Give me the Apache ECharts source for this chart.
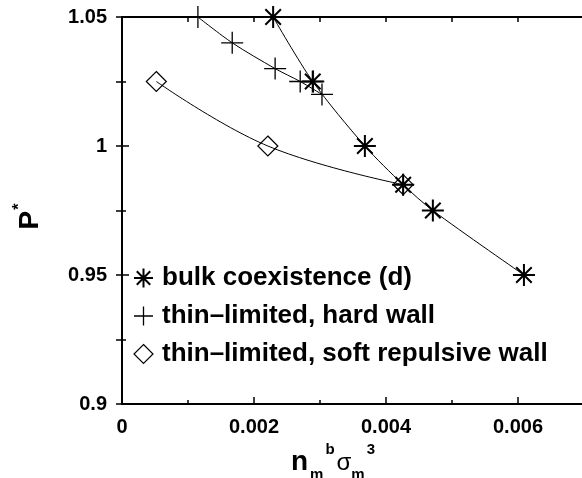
<!DOCTYPE html>
<html>
<head>
<meta charset="utf-8">
<script src="https://cdn.jsdelivr.net/npm/echarts@6/dist/echarts.min.js"></script>
<style>
  html, body { margin: 0; padding: 0; background: #fff; }
  #chart { width: 582px; height: 478px; }
</style>
</head>
<body>
<div id="chart"></div>
<script>
// values
const bulkX = [0.00229, 0.00289, 0.00368, 0.00426, 0.00471, 0.00609]
const bulkY = [1.05, 1.025, 1.0, 0.985, 0.975, 0.95]

const hardX = [0.00115, 0.00167, 0.00232, 0.0027, 0.00303]
const hardY = [1.05, 1.04, 1.03, 1.025, 1.02]
// extra hard-wall points sitting on top of the bulk curve
const hardExtraX = [0.0029, 0.00426]
const hardExtraY = [1.025, 0.985]

const softX = [0.00052, 0.00221, 0.00426]
const softY = [1.025, 1.0, 0.985]

const names = ['bulk coexistence (d)', 'thin–limited, hard wall', 'thin–limited, soft repulsive wall']

const FONT = '"Liberation Sans", Arial, Helvetica, sans-serif'
const ASTERISK = 'path://M0,10L20,10M10,0L10,20M2.93,2.93L17.07,17.07M17.07,2.93L2.93,17.07'
const PLUS = 'path://M0,10L20,10M10,0L10,20'

const pairs = (xs, ys) => xs.map((x, i) => [x, ys[i]])

const markStyle = (w) => ({ color: 'transparent', borderColor: '#000', borderWidth: w })

const chart = echarts.init(document.getElementById('chart'))

chart.setOption({
  animation: false,
  backgroundColor: '#fff',
  grid: { left: 122, top: 17, right: -2, bottom: 74, outerBoundsMode: 'none', containLabel: false },
  legend: {
    orient: 'vertical',
    left: 128,
    top: 260,
    itemWidth: 19,
    itemHeight: 19,
    itemGap: 12,
    selectedMode: false,
    textStyle: { fontFamily: FONT, fontWeight: 'bold', fontSize: 26, color: '#000', padding: [0, 0, 0, 4] },
    data: [
      { name: names[0], icon: ASTERISK, itemStyle: markStyle(2) },
      { name: names[1], icon: PLUS, itemStyle: markStyle(1.3) },
      { name: names[2], icon: 'diamond', itemStyle: markStyle(1.2) },
    ],
  },
  xAxis: [
    {
      type: 'value', position: 'bottom', min: 0, max: 0.007, interval: 0.002,
      axisLine: { show: true, lineStyle: { color: '#000', width: 2 } },
      axisTick: { show: true, inside: true, length: 7, lineStyle: { color: '#000', width: 1.5 } },
      axisLabel: { show: true, showMaxLabel: false, margin: 13, color: '#000', fontFamily: FONT, fontWeight: 'bold', fontSize: 20 },
      splitLine: { show: false },
      name: '{n|n}{sub|m}{sup|b}{s|σ}{sub|m}{sup|3}',
      nameLocation: 'middle',
      nameGap: 30,
      nameTextStyle: {
        padding: [0, 38, 0, 0],
        rich: {
          n: { fontFamily: FONT, fontWeight: 'bold', fontSize: 28, lineHeight: 28, color: '#000', verticalAlign: 'bottom', padding: [0, 2, 6, 0] },
          sub: { fontFamily: FONT, fontWeight: 'bold', fontSize: 15, lineHeight: 15, color: '#000', verticalAlign: 'bottom' },
          sup: { fontFamily: FONT, fontWeight: 'bold', fontSize: 15, lineHeight: 15, color: '#000', verticalAlign: 'bottom', padding: [0, 2, 25, 2] },
          s: { fontFamily: FONT, fontSize: 24, lineHeight: 24, color: '#000', verticalAlign: 'bottom', padding: [0, 0, 7, 0] },
        },
      },
    },
    {
      type: 'value', position: 'bottom', min: 0, max: 0.007, interval: 0.001,
      axisLine: { show: false },
      axisTick: { show: true, inside: true, length: 4, lineStyle: { color: '#000', width: 1.5 } },
      axisLabel: { show: false },
      splitLine: { show: false },
    },
    {
      type: 'value', position: 'top', min: 0, max: 0.007, interval: 0.001,
      axisLine: { show: true, lineStyle: { color: '#000', width: 2 } },
      axisTick: { show: true, inside: true, length: 5, lineStyle: { color: '#000', width: 1.5 } },
      axisLabel: { show: false },
      splitLine: { show: false },
    },
  ],
  yAxis: [
    {
      type: 'value', position: 'left', min: 0.9, max: 1.05, interval: 0.05,
      axisLine: { show: true, lineStyle: { color: '#000', width: 2 } },
      axisTick: { show: true, inside: true, length: 7, lineStyle: { color: '#000', width: 1.5 } },
      minorTick: { show: true, splitNumber: 2, length: 4, lineStyle: { color: '#000', width: 1.5 } },
      axisLabel: { margin: 15, color: '#000', fontFamily: FONT, fontWeight: 'bold', fontSize: 20 },
      splitLine: { show: false },
      name: '{p|P}{s|*}',
      nameLocation: 'middle',
      nameRotate: 90,
      nameGap: 78,
      nameTextStyle: {
        padding: [0, 12, 0, 0],
        rich: {
          p: { fontFamily: FONT, fontWeight: 'bold', fontSize: 28, lineHeight: 28, color: '#000', verticalAlign: 'bottom' },
          s: { fontFamily: FONT, fontWeight: 'bold', fontSize: 16, lineHeight: 16, color: '#000', verticalAlign: 'bottom', padding: [0, 0, 16, 1] },
        },
      },
    },
    {
      type: 'value', position: 'right', min: 0.9, max: 1.05, interval: 0.025,
      axisLine: { show: true, lineStyle: { color: '#000', width: 2 } },
      axisTick: { show: true, inside: true, length: 6, lineStyle: { color: '#000', width: 1.5 } },
      axisLabel: { show: false },
      splitLine: { show: false },
    },
  ],
  series: [
    {
      name: names[0], type: 'line', smooth: 0.3, clip: false,
      data: pairs(bulkX, bulkY),
      symbol: ASTERISK, symbolSize: 22,
      itemStyle: markStyle(2),
      lineStyle: { color: '#000', width: 1 },
      emphasis: { disabled: true },
      z: 3,
    },
    {
      name: names[1], type: 'line', smooth: 0.3, clip: false,
      data: pairs(hardX, hardY),
      symbol: PLUS, symbolSize: 22,
      itemStyle: markStyle(1.3),
      lineStyle: { color: '#000', width: 1 },
      emphasis: { disabled: true },
    },
    {
      name: names[1], type: 'scatter',
      data: pairs(hardExtraX, hardExtraY),
      symbol: PLUS, symbolSize: 22,
      itemStyle: markStyle(1.3),
      emphasis: { disabled: true },
    },
    {
      name: names[2], type: 'line', smooth: 0.4, clip: false,
      data: pairs(softX, softY),
      symbol: 'diamond', symbolSize: 20,
      itemStyle: markStyle(1.2),
      lineStyle: { color: '#000', width: 1 },
      emphasis: { disabled: true },
    },
  ],
})
</script>
</body>
</html>
